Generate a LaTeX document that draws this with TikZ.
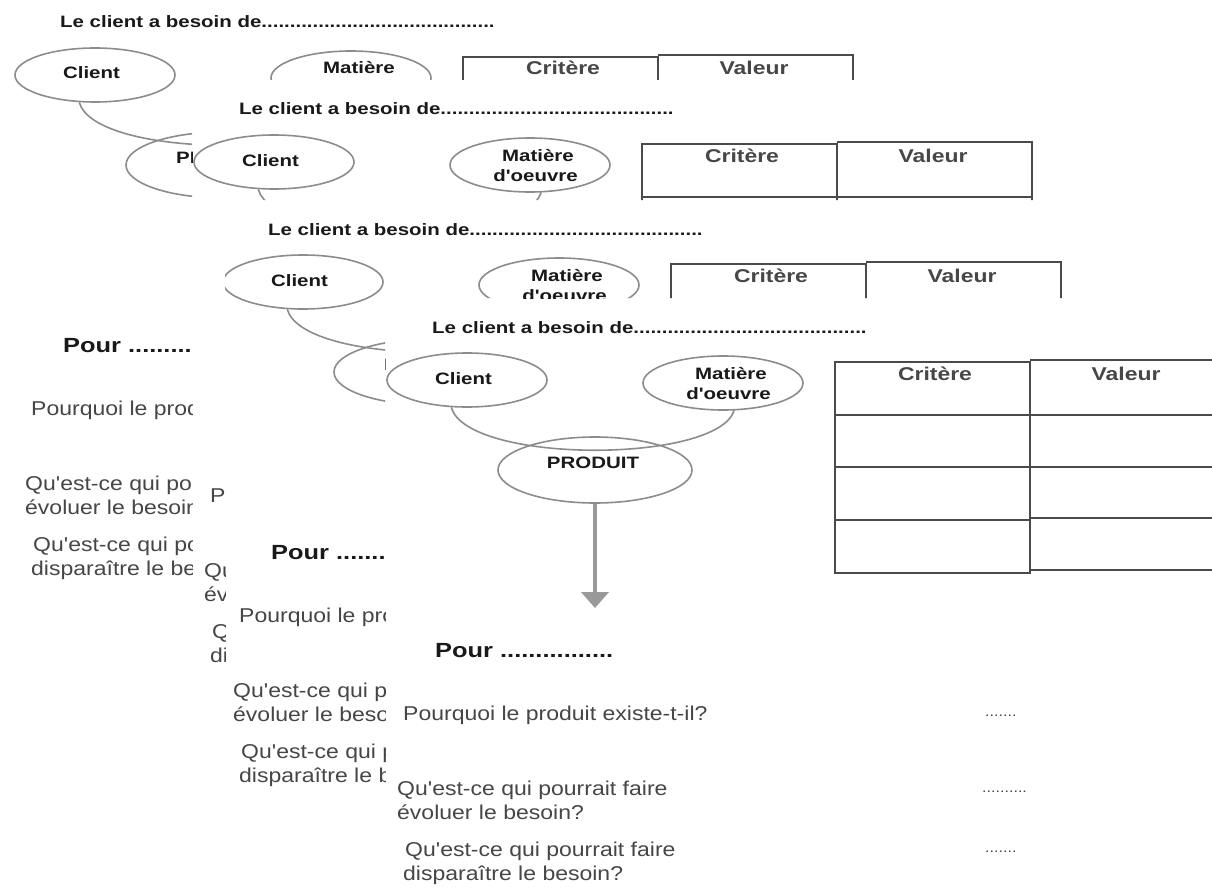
\documentclass[tikz,border=0pt]{standalone}
\usepackage{fontspec}
\setmainfont{Liberation Sans}
\newfontfamily\widesans[FakeStretch=1.24]{Liberation Sans}
\newfontfamily\textsans[FakeStretch=1.15]{Liberation Sans}
\usetikzlibrary{shapes.geometric, arrows.meta}

\definecolor{ovalgray}{HTML}{8C8C8C}
\definecolor{rulegray}{HTML}{4A4A4A}
\definecolor{arrowgray}{HTML}{999999}
\definecolor{inkgray}{HTML}{464646}

\tikzset{
  ttl/.style={anchor=base west, inner sep=0pt, text=black!90,
    font=\widesans\bfseries\fontsize{16.5}{19}\selectfont},
  lbl/.style={anchor=base, inner sep=0pt, text=black!90,
    font=\widesans\bfseries\fontsize{16.5}{19}\selectfont},
  lblw/.style={lbl, anchor=base west},
  hdr/.style={anchor=base, inner sep=0pt, text=black!72,
    font=\widesans\bfseries\fontsize{18.5}{22}\selectfont},
  pourtxt/.style={anchor=base west, inner sep=0pt, text=black!90,
    font=\widesans\bfseries\fontsize{20.5}{24}\selectfont},
  qst/.style={anchor=base west, inner sep=0pt, text=inkgray,
    font=\textsans\fontsize{20}{24}\selectfont},
  dts/.style={anchor=base west, inner sep=0pt, text=inkgray,
    font=\textsans\fontsize{14}{16}\selectfont},
  oval/.style={ellipse, draw=ovalgray, line width=1.6pt,
    minimum width=160pt, minimum height=54pt, inner sep=0pt},
  link/.style={draw=ovalgray, line width=1.6pt},
  flow/.style={draw=arrowgray, line width=4.5pt,
    -{Triangle[width=27pt,length=16pt]}},
  grid/.style={draw=rulegray, line width=1.8pt},
}

% Drawn part of one "bete a cornes" worksheet; #1 prefixes the node names
\newcommand\besoinshapes[1]{%
  \node[oval] (#1-client) at (95,75) {};
  \node[oval] (#1-matiere) at (351,78) {};
  \node[oval, minimum width=194pt, minimum height=66pt] (#1-produit) at (223,165) {};
  % the horn joining client and matter, and the goal arrow
  \draw[link] (#1-client.-120) .. controls (95,159) and (345,159) .. (#1-matiere.-68);
  \coordinate (#1-tip) at (223,303);
  \draw[flow] (#1-produit.south) -- (#1-tip);
  % criteria table
  \draw[grid] (463,57) rectangle (658,268);
  \draw[grid] (463,110) -- (658,110) (463,162) -- (658,162);
  \draw[grid, line width=2.8pt] (463,215) -- (658,215);
  \draw[grid] (658,55) -- (853,55) -- (853,265) -- (658,265);
  \draw[grid] (658,110) -- (853,110) (658,162) -- (853,162) (658,213) -- (853,213);
}
% header texts shared by every sheet
\newcommand\besoinhead[1]{%
  \node[ttl] (#1-titre) at (60,28) {Le client a besoin de.........................................};
  \node[lbl] (#1-clienttxt) at (91.5,79) {Client};
  \node[lbl] (#1-mat1) at (359,74) {Matière};
  \node[hdr] (#1-critere) at (563,75) {Critère};
  \node[hdr] (#1-valeur) at (754,75) {Valeur};
}

\begin{document}
\begin{tikzpicture}[x=1pt, y=-1pt]
  \useasboundingbox (0,0) rectangle (1212,888);
  \fill[white] (0,0) rectangle (1212,888);

  % back sheet
  \begin{scope}
    \clip (0,0) -- (1212,0) -- (1212,80) -- (192,80) -- (192,888) -- (0,888) -- cycle;
    \besoinshapes{a}
    \besoinhead{a}
    \node[lblw] (a-prodtxt) at (176,163) {PR};
    \node[pourtxt] (a-pour) at (63,352) {Pour ..........};
    \node[qst] (a-q1) at (31,415) {Pourquoi le prod};
    \node[qst] (a-q2a) at (25,490) {Qu'est-ce qui po};
    \node[qst] (a-q2b) at (25,514) {évoluer le besoin};
    \node[qst] (a-q3a) at (33,551) {Qu'est-ce qui po};
    \node[qst] (a-q3b) at (31,575) {disparaître le be};
  \end{scope}

  % second sheet
  \begin{scope}
    \clip (192,80) -- (1212,80) -- (1212,200) -- (225,200) -- (225,888) -- (192,888) -- cycle;
    \begin{scope}[shift={(179,87)}]
      \besoinshapes{b}
      \besoinhead{b}
      \node[lbl] (b-mat2) at (356.5,94) {d'oeuvre};
      \node[qst] (b-q1) at (31,415) {Po};
      \node[qst] (b-q2a) at (25,490) {Qu};
      \node[qst] (b-q2b) at (25,514) {év};
      \node[qst] (b-q3a) at (33,551) {Qu};
      \node[qst] (b-q3b) at (31,575) {dis};
    \end{scope}
  \end{scope}

  % third sheet
  \begin{scope}
    \clip (225,200) -- (1212,200) -- (1212,298) -- (385,298) -- (385,888) -- (225,888) -- cycle;
    \begin{scope}[shift={(208,207)}]
      \besoinshapes{c}
      \besoinhead{c}
      \node[lbl] (c-mat2) at (356.5,94) {d'oeuvre};
      \node[lblw] (c-prodtxt) at (176,163) {P};
      \node[pourtxt] (c-pour) at (63,352) {Pour ........};
      \node[qst] (c-q1) at (31,415) {Pourquoi le pro};
      \node[qst] (c-q2a) at (25,490) {Qu'est-ce qui p};
      \node[qst] (c-q2b) at (25,514) {évoluer le beso};
      \node[qst] (c-q3a) at (33,551) {Qu'est-ce qui p};
      \node[qst] (c-q3b) at (31,575) {disparaître le b};
    \end{scope}
  \end{scope}

  % front sheet
  \begin{scope}
    \clip (385,298) -- (1212,298) -- (1212,888) -- (385,888) -- cycle;
    \begin{scope}[shift={(372,305)}]
      \besoinshapes{d}
      \besoinhead{d}
      \node[lbl] (d-mat2) at (356.5,94) {d'oeuvre};
      \node[lbl] (d-prodtxt) at (221,163) {PRODUIT};
      \node[pourtxt] (d-pour) at (63,352) {Pour ................};
      \node[qst] (d-q1) at (31,415) {Pourquoi le produit existe-t-il?};
      \node[qst] (d-q2a) at (25,490) {Qu'est-ce qui pourrait faire};
      \node[qst] (d-q2b) at (25,514) {évoluer le besoin?};
      \node[qst] (d-q3a) at (33,551) {Qu'est-ce qui pourrait faire};
      \node[qst] (d-q3b) at (31,575) {disparaître le besoin?};
      \node[dts] (d-r1) at (613,411) {.......};
      \node[dts] (d-r2) at (610,487) {..........};
      \node[dts] (d-r3) at (613,547) {.......};
    \end{scope}
  \end{scope}
\end{tikzpicture}
\end{document}
